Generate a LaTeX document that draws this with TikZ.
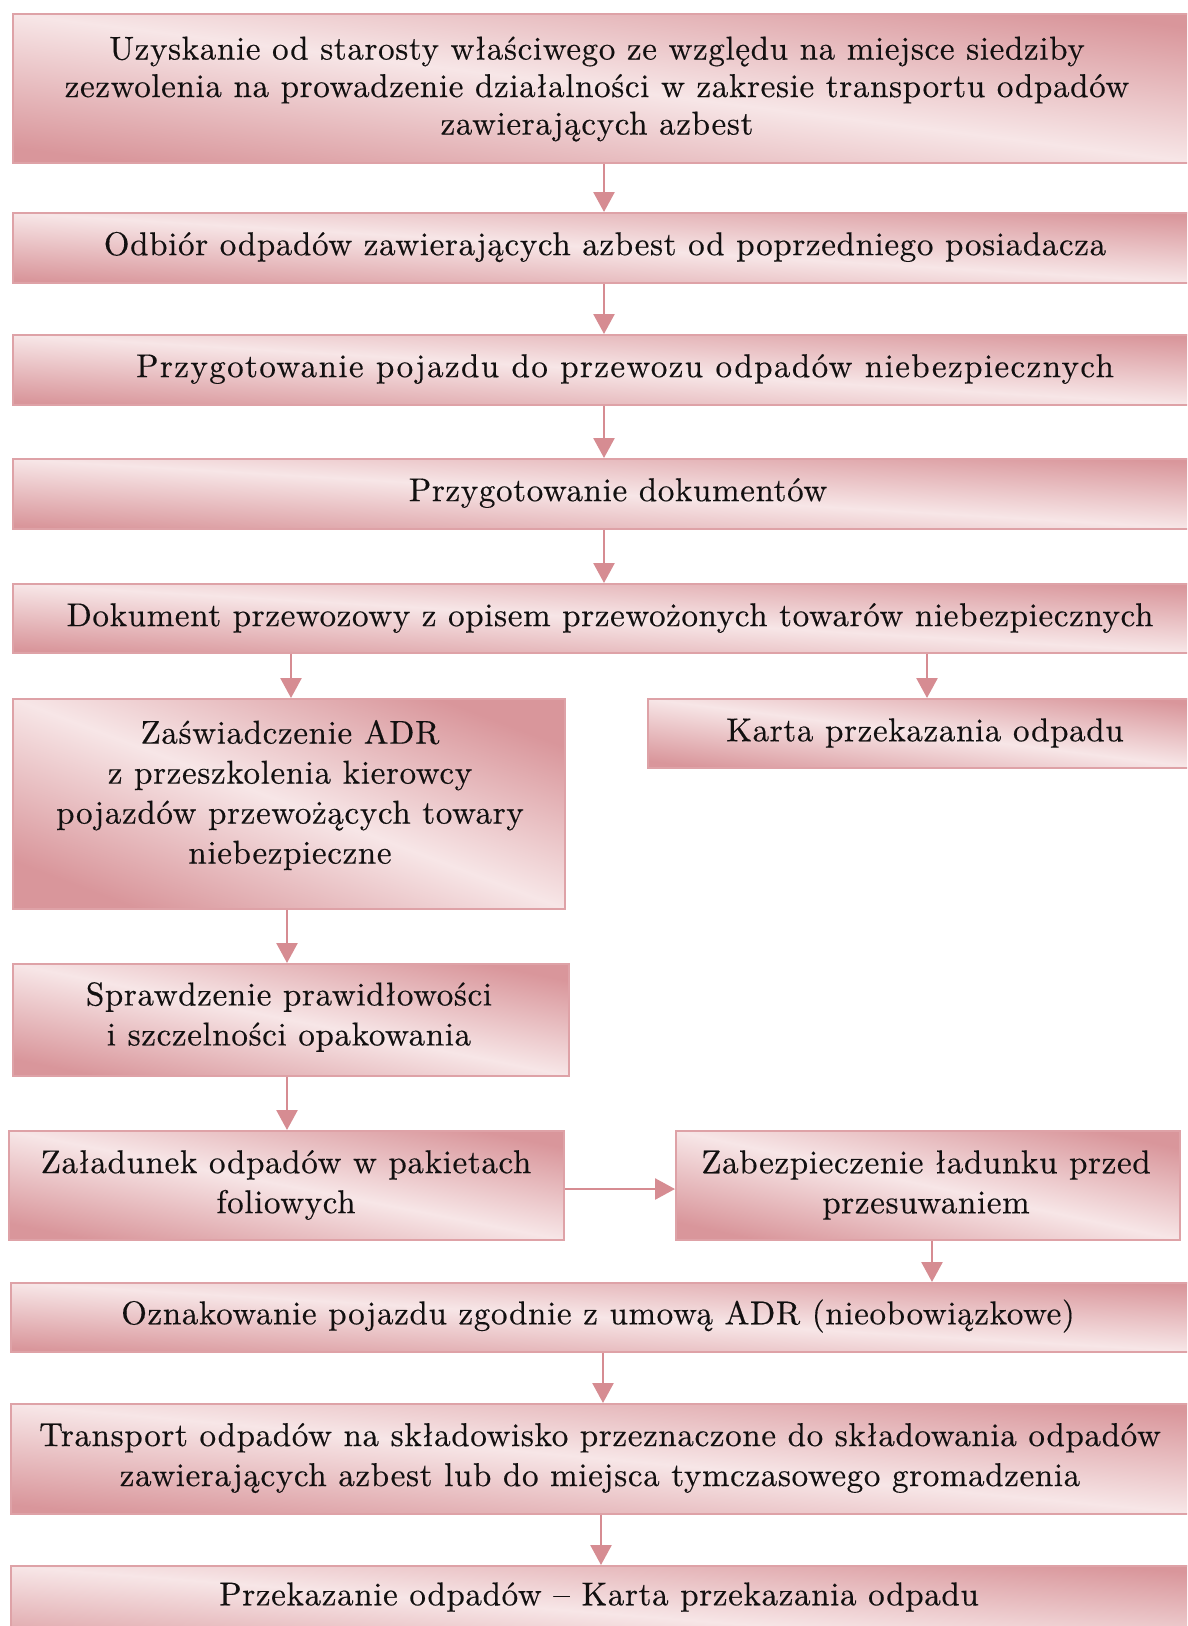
\documentclass[tikz,border=0pt]{standalone}
\usepackage{fontspec}
\newfontfamily\boxfont{lmroman10-regular.otf}[LetterSpace=2,FakeBold=0.4]
\newfontfamily\wideboxfont{lmroman10-regular.otf}[LetterSpace=4.3,FakeBold=0.4]
\usetikzlibrary{arrows.meta}
\definecolor{rosedark}{RGB}{217,150,155}
\definecolor{roselight}{RGB}{247,230,231}
\definecolor{boxline}{RGB}{222,162,167}
\definecolor{arrowcol}{RGB}{214,140,146}
\definecolor{textcol}{RGB}{18,16,16}
\newcommand\mkbox[5]{%
  \pgfmathsetmacro\boxang{-atan((#5-#3)/(#4-#2))}%
  \node[box, minimum width={#4pt-#2pt}, minimum height={#5pt-#3pt},
        top color=rosedark, bottom color=rosedark, middle color=roselight,
        shading angle=\boxang] (#1) at (#2,#3) {};}
\begin{document}
\begin{tikzpicture}[x=1pt,y=-1pt,
  box/.style={rectangle, draw=boxline, line width=1.6pt, inner sep=0pt, anchor=north west},
  txt/.style={align=center, text=textcol, inner sep=0pt,
    font=\boxfont\fontsize{33}{40}\selectfont},
  widetxt/.style={txt, font=\wideboxfont\fontsize{33}{40}\selectfont},
  arr/.style={draw=arrowcol, line width=2.6pt, -{Triangle[length=20pt,width=21pt]}}]
\useasboundingbox (0,0) rectangle (1187,1626);
\clip (0,0) rectangle (1187,1626);
\fill[white] (0,0) rectangle (1187,1626);
% boxes
\mkbox{b1}{12}{13}{1200}{162}
\mkbox{b2}{12}{212}{1200}{282}
\mkbox{b3}{12}{334}{1200}{404}
\mkbox{b4}{12}{458}{1200}{528}
\mkbox{b5}{12}{583}{1200}{652}
\mkbox{zas}{12}{698}{564}{908}
\mkbox{karta}{647}{698}{1200}{767}
\mkbox{spr}{12}{963}{568}{1075}
\mkbox{zal}{8}{1130}{563}{1239}
\mkbox{zab}{675}{1130}{1179}{1239}
\mkbox{ozn}{10}{1282}{1200}{1351}
\mkbox{tra}{10}{1403}{1200}{1513}
\mkbox{prz}{10}{1565}{1200}{1660}
% texts
\node[txt, font=\boxfont\fontsize{33}{37.5}\selectfont] (t1) at (597,89) {Uzyskanie od starosty właściwego ze względu na miejsce siedziby\\zezwolenia na prowadzenie działalności w zakresie transportu odpadów\\zawierających azbest};
\node[txt] (t2) at (605,247) {Odbiór odpadów zawierających azbest od poprzedniego posiadacza};
\node[widetxt] (t3) at (625,369) {Przygotowanie pojazdu do przewozu odpadów niebezpiecznych};
\node[txt] (t4) at (618,493) {Przygotowanie dokumentów};
\node[txt] (t5) at (610,618) {Dokument przewozowy z opisem przewożonych towarów niebezpiecznych};
\node[txt] (t6) at (925,733) {Karta przekazania odpadu};
\node[txt] (t7) at (290,795) {Zaświadczenie ADR\\z przeszkolenia kierowcy\\pojazdów przewożących towary\\niebezpieczne};
\node[txt] (t8) at (289,1017) {Sprawdzenie prawidłowości\\i szczelności opakowania};
\node[txt] (t9) at (286,1185) {Załadunek odpadów w pakietach\\foliowych};
\node[txt] (t10) at (926,1185) {Zabezpieczenie ładunku przed\\przesuwaniem};
\node[txt] (t11) at (598,1316) {Oznakowanie pojazdu zgodnie z umową ADR (nieobowiązkowe)};
\node[txt] (t12) at (600,1458) {Transport odpadów na składowisko przeznaczone do składowania odpadów\\zawierających azbest lub do miejsca tymczasowego gromadzenia};
\node[txt] (t13) at (599,1597) {Przekazanie odpadów – Karta przekazania odpadu};
% connector columns
\coordinate (cm) at (604,0);
\coordinate (cl) at (291,0);
\coordinate (cl2) at (287,0);
\coordinate (cr) at (927,0);
\coordinate (cr2) at (932,0);
\coordinate (cm2) at (603,0);
\coordinate (cm3) at (601,0);
\coordinate (hy) at (0,1189);
% connectors
\draw[arr] (b1.south -| cm) -- (b2.north -| cm);
\draw[arr] (b2.south -| cm) -- (b3.north -| cm);
\draw[arr] (b3.south -| cm) -- (b4.north -| cm);
\draw[arr] (b4.south -| cm) -- (b5.north -| cm);
\draw[arr] (b5.south -| cl) -- (zas.north -| cl);
\draw[arr] (b5.south -| cr) -- (karta.north -| cr);
\draw[arr] (zas.south -| cl2) -- (spr.north -| cl2);
\draw[arr] (spr.south -| cl2) -- (zal.north -| cl2);
\draw[arr] (zal.east |- hy) -- (zab.west |- hy);
\draw[arr] (zab.south -| cr2) -- (ozn.north -| cr2);
\draw[arr] (ozn.south -| cm2) -- (tra.north -| cm2);
\draw[arr] (tra.south -| cm3) -- (prz.north -| cm3);
\end{tikzpicture}
\end{document}
